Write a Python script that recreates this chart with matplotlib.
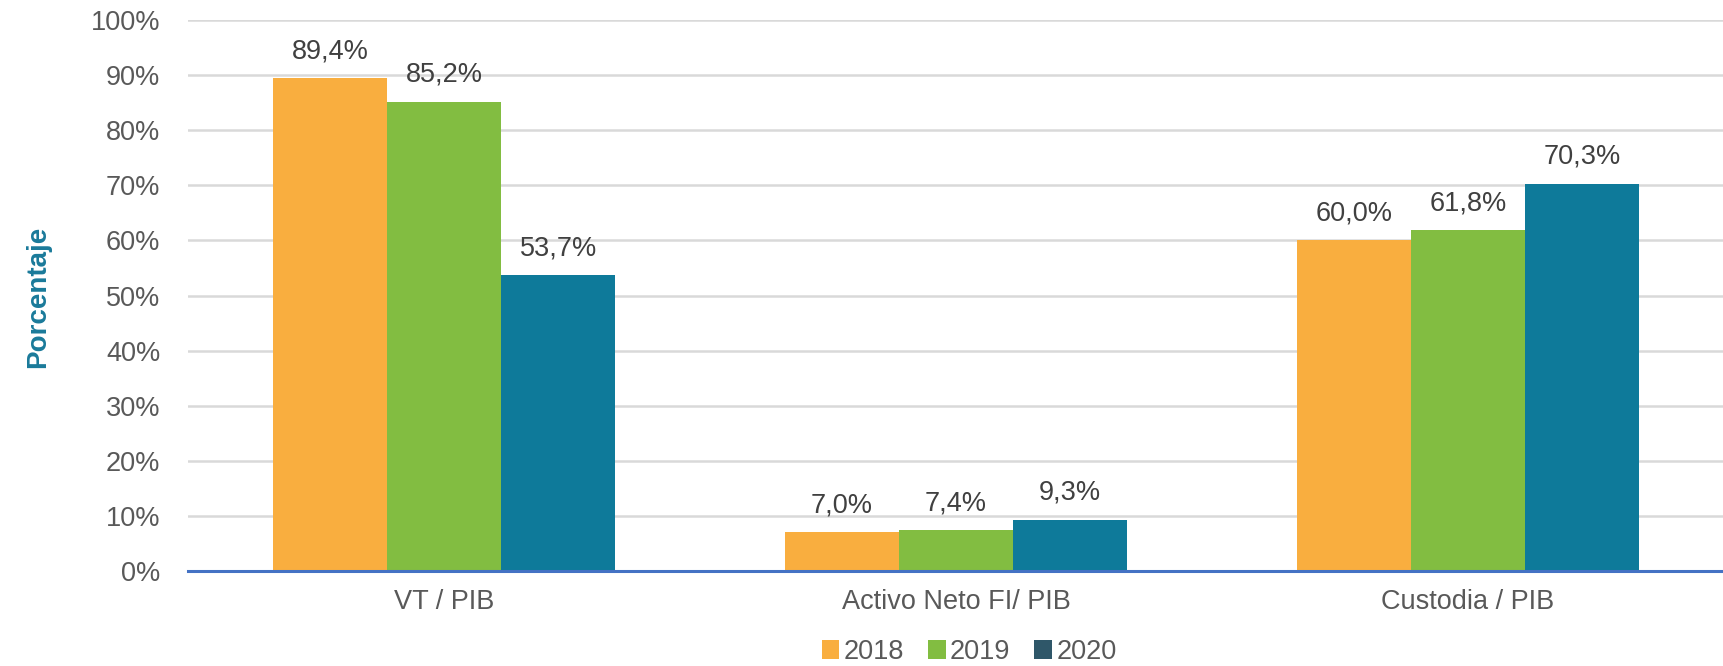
import numpy as np
import matplotlib.pyplot as plt
from matplotlib.patches import Patch

plt.rcParams['font.family'] = ['Liberation Sans', 'DejaVu Sans']

categories = ['VT / PIB', 'Activo Neto FI/ PIB', 'Custodia / PIB']
years = ['2018', '2019', '2020']
vals_2018 = [89.4, 7.0, 60.0]
vals_2019 = [85.2, 7.4, 61.8]
vals_2020 = [53.7, 9.3, 70.3]

bar_colors = ['#F9AE3F', '#82BD41', '#0E7A9A']
legend_colors = ['#F9AE3F', '#82BD41', '#2F5769']

fig = plt.figure(figsize=(17.24, 6.66), dpi=100)
ax = fig.add_axes([188/1724, 1 - 571/666, (1724 - 188)/1724, (571 - 20)/666])

x = np.arange(len(categories))
w = 0.223
series = [vals_2018, vals_2019, vals_2020]
for i, (vals, c) in enumerate(zip(series, bar_colors)):
    pos = x + (i - 1) * w
    ax.bar(pos, vals, width=w, color=c, zorder=3)
    for p, v in zip(pos, vals):
        ax.text(p, v + 4.9, f'{v:.1f}'.replace('.', ',') + '%', ha='center', va='center',
                fontsize=19.5, color='#404040')

ax.set_xlim(-0.5, 2.5)
ax.set_ylim(0, 100)
ax.set_yticks(np.arange(0, 101, 10))
ax.set_yticklabels([f'{t}%' for t in range(0, 101, 10)], fontsize=19.5, color='#595959')
ax.set_xticks(x)
ax.set_xticklabels(categories, fontsize=19.5, color='#595959')
ax.tick_params(axis='both', length=0)
ax.tick_params(axis='x', pad=13)
ax.tick_params(axis='y', pad=20)
ax.grid(axis='y', color='#D9D9D9', linewidth=1.8, zorder=0)
for s in ['top', 'right', 'left']:
    ax.spines[s].set_visible(False)
ax.spines['bottom'].set_color('#4472C4')
ax.spines['bottom'].set_linewidth(2.2)
ax.spines['bottom'].set_zorder(4)

fig.text(38/1724, 1 - 297/666, 'Porcentaje', rotation=90, ha='center', va='center',
         fontsize=20, fontweight='bold', color='#1A7A9A')

handles = [Patch(facecolor=c, edgecolor='none') for c in legend_colors]
fig.legend(handles, years, loc='center', bbox_to_anchor=(969/1724, 1 - 652/666), ncol=3,
           frameon=False, fontsize=19.5, handlelength=0.65, handleheight=0.65,
           handletextpad=0.15, columnspacing=0.9, labelcolor='#595959')

fig.savefig('out.png', dpi=100)
